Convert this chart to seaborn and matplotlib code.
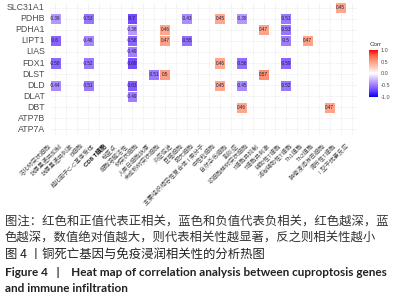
import numpy as np
import pandas as pd
import seaborn as sns
import matplotlib.pyplot as plt
import matplotlib.transforms as mtransforms
from matplotlib.colors import LinearSegmentedColormap

genes = ['SLC31A1', 'PDHB', 'PDHA1', 'LIPT1', 'LIAS', 'FDX1',
         'DLST', 'DLD', 'DLAT', 'DBT', 'ATP7B', 'ATP7A']
cells = ['活化树突状细胞', '抗原呈递共抑制', '抗原呈递共刺激', 'B细胞',
         '趋化因子C-C基序受体', 'CD8 T细胞', '检查点', '细胞溶解活性',
         '树突状细胞', '人类白细胞抗原', '未成熟树突状细胞', '炎症促进',
         '巨噬细胞', '肥大细胞', '主要组织相容性复合体 I 类分子', '中性粒细胞',
         '自然杀伤细胞', '副炎症', '浆细胞样树突状细胞', 'T细胞共抑制',
         'T细胞共刺激', '辅助性T细胞', '滤泡辅助性T细胞', 'Th1细胞',
         'Th2细胞', '肿瘤浸润淋巴细胞', '调节性T细胞', 'I 型干扰素反应']

# significant correlations only: (gene, column index, r)
sig_gene = ['SLC31A1',
            'PDHB', 'PDHB', 'PDHB', 'PDHB', 'PDHB', 'PDHB', 'PDHB',
            'PDHA1', 'PDHA1', 'PDHA1', 'PDHA1',
            'LIPT1', 'LIPT1', 'LIPT1', 'LIPT1', 'LIPT1', 'LIPT1', 'LIPT1',
            'LIAS',
            'FDX1', 'FDX1', 'FDX1', 'FDX1', 'FDX1', 'FDX1',
            'DLST', 'DLST', 'DLST',
            'DLD', 'DLD', 'DLD', 'DLD', 'DLD', 'DLD',
            'DLAT',
            'DBT', 'DBT']
sig_col = [26,
           0, 3, 7, 12, 15, 17, 21,
           7, 10, 19, 21,
           0, 3, 7, 10, 12, 21, 23,
           7,
           0, 3, 7, 15, 17, 21,
           9, 10, 19,
           0, 3, 7, 15, 17, 21,
           7,
           17, 25]
sig_r = [0.45,
         -0.39, -0.53, -0.7, -0.43, 0.45, -0.39, -0.51,
         -0.38, 0.46, 0.47, -0.53,
         -0.6, -0.46, -0.58, 0.47, -0.55, -0.5, 0.47,
         -0.49,
         -0.58, -0.52, -0.69, 0.46, -0.56, -0.59,
         -0.51, 0.5, 0.57,
         -0.44, -0.51, -0.63, 0.45, -0.45, -0.52,
         -0.49,
         0.46, 0.47]

corr = pd.DataFrame(np.nan, index=genes, columns=cells)
for g, c, r in zip(sig_gene, sig_col, sig_r):
    corr.loc[g, cells[c]] = r
labels = corr.map(lambda v: '' if pd.isna(v) else f'{v:g}')

# ggplot-like blue-white-red gradient
cmap = LinearSegmentedColormap.from_list('corr', [
    '#0000FF', '#6A3DFF', '#9E7DFF', '#D0B8FF', '#FFFFFF',
    '#FFCDBC', '#FF9E81', '#FF6846', '#FF0000'])

plt.rcParams['font.family'] = ['Liberation Sans', 'Noto Sans CJK SC']

fig = plt.figure(figsize=(4, 3), dpi=100)
ax = fig.add_axes([0.124, 0.55, 0.769, 0.443])
cax = fig.add_axes([0.923, 0.677, 0.022, 0.157])

sns.heatmap(corr, mask=corr.isna(), cmap=cmap, vmin=-1, vmax=1,
            annot=labels, fmt='', annot_kws={'size': 3.3, 'color': '#1a1a40'},
            linewidths=0.6, linecolor='white', ax=ax, cbar_ax=cax,
            xticklabels=True, yticklabels=True)

ax.set_xticks(np.arange(len(cells)), minor=True)
ax.set_yticks(np.arange(len(genes)), minor=True)
ax.grid(True, which='both', color='#ececec', lw=0.4)
ax.set_axisbelow(True)
ax.tick_params(which='both', length=0)
ax.set_xlabel('')
ax.set_ylabel('')
ax.set_yticklabels(genes, rotation=0, fontsize=6.3, color='#4d4d4d')
ax.set_xticklabels(cells, rotation=45, ha='right', rotation_mode='anchor',
                   fontsize=4.3, color='#4d4d4d')
shift = mtransforms.ScaledTranslation(-7 / 100, -3 / 100, fig.dpi_scale_trans)
for lab in ax.get_xticklabels():
    lab.set_transform(lab.get_transform() + shift)
    if lab.get_text().startswith('CD8'):
        lab.set_fontweight('bold')
        lab.set_color('#111111')

cax.set_title('Corr', fontsize=4.5, loc='left', color='#333333', pad=3)
cax.set_yticks([-1, -0.5, 0, 0.5, 1])
cax.set_yticklabels(['-1.0', '-0.5', '0.0', '0.5', '1.0'], fontsize=4, color='#4d4d4d')
cax.tick_params(length=0, pad=2)
for s in cax.spines.values():
    s.set_visible(False)

cap1 = '图注：红色和正值代表正相关，蓝色和负值代表负相关，红色越深，蓝'
cap2 = '色越深，数值绝对值越大，则代表相关性越显著，反之则相关性越小'
cap3 = '图 4 丨铜死亡基因与免疫浸润相关性的分析热图'
cap4 = 'Figure 4   |    Heat map of correlation analysis between cuproptosis genes'
cap5 = 'and immune infiltration'
fig.text(0.012, 1 - 221 / 300, cap1, fontsize=8.9, va='center', color='#333333',
         family=['Noto Sans CJK SC'])
fig.text(0.012, 1 - 237 / 300, cap2, fontsize=8.9, va='center', color='#333333',
         family=['Noto Sans CJK SC'])
fig.text(0.012, 1 - 254 / 300, cap3, fontsize=8.9, va='center', color='#222222',
         family=['Noto Sans CJK SC'])
fig.text(0.012, 1 - 273 / 300, cap4, fontsize=8.5, va='center', color='#222222',
         family=['Lato'], fontweight='bold')
fig.text(0.012, 1 - 289 / 300, cap5, fontsize=8.5, va='center', color='#222222',
         family=['Lato'], fontweight='bold')

fig.savefig('out.png', dpi=100)
